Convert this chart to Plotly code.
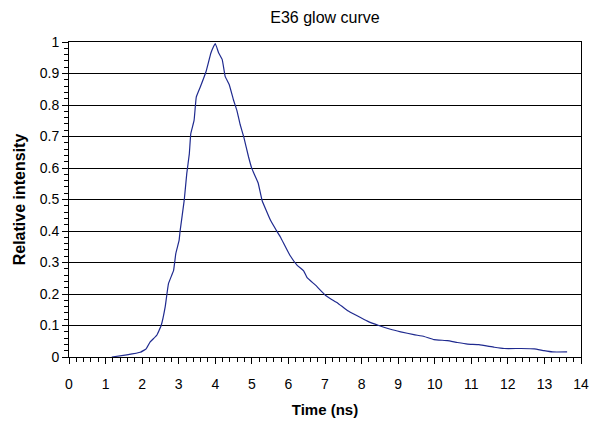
import plotly.graph_objects as go

time_ns = [1.17, 1.58, 1.95, 2.11, 2.22, 2.40, 2.52, 2.63, 2.72, 2.86, 2.92, 3.01, 3.04,
           3.15, 3.22, 3.29, 3.33, 3.42, 3.48, 3.59, 3.75, 3.88, 3.95, 4.00, 4.09, 4.19,
           4.27, 4.38, 4.50, 4.59, 4.68, 4.78, 4.91, 5.00, 5.17, 5.28, 5.51, 5.67, 5.78,
           6.04, 6.24, 6.42, 6.51, 6.74, 7.01, 7.15, 7.35, 7.61, 7.88, 8.16, 8.47, 8.79,
           9.07, 9.43, 9.71, 9.98, 10.35, 10.62, 10.90, 11.21, 11.63, 11.90, 12.36,
           12.72, 12.99, 13.22, 13.62]
intensity = [0.000, 0.007, 0.015, 0.026, 0.048, 0.069, 0.100, 0.159, 0.233, 0.275, 0.328,
             0.370, 0.402, 0.497, 0.582, 0.645, 0.709, 0.751, 0.825, 0.857, 0.907, 0.965,
             0.985, 0.995, 0.966, 0.944, 0.891, 0.865, 0.815, 0.783, 0.738, 0.698, 0.635,
             0.598, 0.553, 0.497, 0.434, 0.402, 0.381, 0.323, 0.291, 0.273, 0.252, 0.228,
             0.196, 0.185, 0.171, 0.148, 0.131, 0.114, 0.100, 0.088, 0.080, 0.071, 0.065,
             0.055, 0.052, 0.046, 0.041, 0.039, 0.031, 0.027, 0.027, 0.026, 0.020, 0.016,
             0.016]

x_ticks = list(range(0, 15))
y_ticks = [0, 0.1, 0.2, 0.3, 0.4, 0.5, 0.6, 0.7, 0.8, 0.9, 1]
y_tick_labels = ["0", "0.1", "0.2", "0.3", "0.4", "0.5", "0.6", "0.7", "0.8", "0.9", "1"]

FONT = "Liberation Sans, Arial, sans-serif"

fig = go.Figure()
fig.add_trace(go.Scatter(x=time_ns, y=intensity, mode="lines", line_shape="spline",
                         line=dict(color="#1f2a8f", width=1.2, smoothing=0.3),
                         showlegend=False))

fig.update_layout(
    width=595, height=421,
    margin=dict(l=69, r=14, t=42, b=64),
    paper_bgcolor="white", plot_bgcolor="white",
    font=dict(family=FONT, size=14, color="black"),
    title=dict(text="E36 glow curve", x=0.5, xanchor="center", xref="paper",
               y=1, yref="container", yanchor="top", pad=dict(t=12),
               font=dict(family=FONT, size=16, color="black")),
    xaxis=dict(
        range=[0, 14], tickmode="array", tickvals=x_ticks,
        ticktext=[str(v) for v in x_ticks], automargin=False,
        showgrid=False, zeroline=False,
        showline=True, linecolor="black", linewidth=1, mirror=True,
        ticks="outside", ticklen=6, tickcolor="black", tickwidth=1,
        ticklabelstandoff=8,
        minor=dict(dtick=0.2, ticks="outside", ticklen=4, tickcolor="black", showgrid=False),
        title=dict(text="<b>Time (ns)</b>", standoff=13,
                   font=dict(family=FONT, size=15, color="black")),
        tickfont=dict(family=FONT, size=14, color="black"),
    ),
    yaxis=dict(
        range=[0, 1], tickmode="array", tickvals=y_ticks, ticktext=y_tick_labels,
        automargin=False,
        showgrid=True, gridcolor="black", gridwidth=1, zeroline=False,
        showline=True, linecolor="black", linewidth=1, mirror=True,
        ticks="outside", ticklen=6, tickcolor="black", tickwidth=1,
        minor=dict(dtick=0.02, ticks="outside", ticklen=4, tickcolor="black", showgrid=False),
        title=dict(text="<b>Relative intensity</b>", standoff=10,
                   font=dict(family=FONT, size=16, color="black")),
        tickfont=dict(family=FONT, size=14, color="black"),
    ),
)

fig.write_html("out.html")
